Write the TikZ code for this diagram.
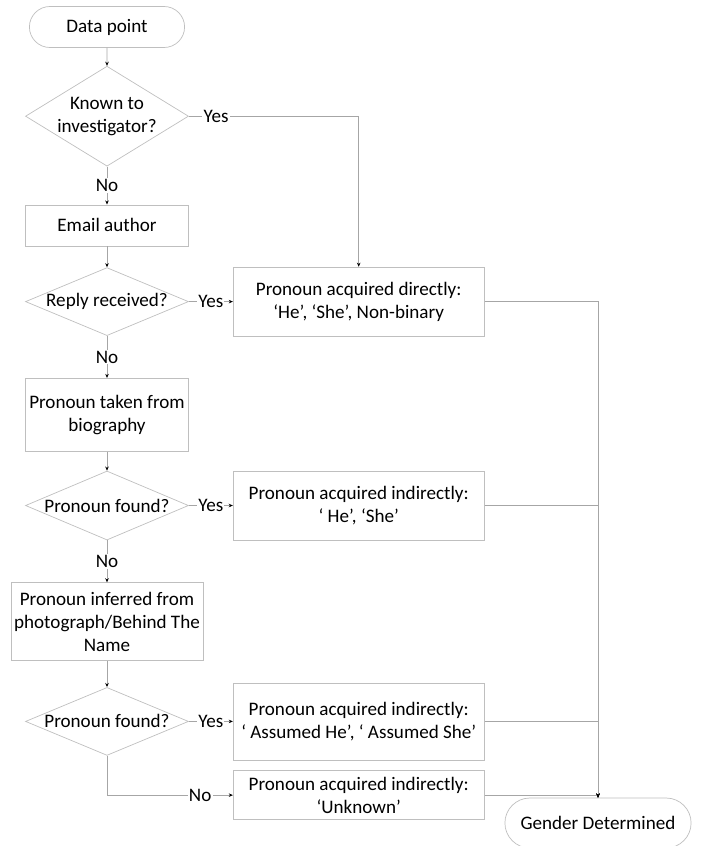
\documentclass[tikz,border=0pt]{standalone}
\usepackage{fontspec}
\setmainfont{Carlito}
\usepackage{tikz}
\usetikzlibrary{arrows.meta}
\usetikzlibrary{shapes,fit,calc,positioning}

\tikzset{
  box/.style={draw=gray!50, line width=0.6pt, minimum width=4.89cm, inner xsep=1pt, align=center, fill=white},
  term/.style={rounded rectangle, draw=gray!50, line width=0.6pt, minimum width=4.89cm, minimum height=1.23cm, fill=white},
  decision/.style={diamond, draw=gray!50, line width=0.6pt, inner sep=0pt, minimum width=4.89cm},
  line/.style={draw=gray!70, line width=0.6pt, -{Stealth[length=3.5pt,width=3pt,black]}},
  lbl/.style={fill=white, inner sep=1pt}
}

\begin{document}
\begin{tikzpicture}[font=\fontsize{16.3}{19.5}\selectfont]
\useasboundingbox (0,0) rectangle (21.03,-25.38);

\node[term](dp) at (3.21,-0.81) {Data point};
\node[decision, minimum height=3cm, below=0.54cm of dp, label={[align=center]center:{Known to\\investigator?}}](d1) {};
\node[box, minimum height=1.23cm, below=1.14cm of d1](email) {Email author};
\node[decision, minimum height=2.04cm, below=0.63cm of email, label=center:{Reply received?}](d2) {};
\node[box, minimum height=2.19cm, below=1.26cm of d2](bio) {Pronoun taken from\\biography};
\node[decision, minimum height=2.07cm, below=0.57cm of bio, label=center:{Pronoun found?}](d3) {};
\node[box, minimum width=5.76cm, minimum height=2.34cm, below=1.26cm of d3](photo) {Pronoun inferred from\\photograph/Behind The\\Name};
\node[decision, minimum height=2.04cm, below=0.78cm of photo, label=center:{Pronoun found?}](d4) {};

\node[box, minimum width=7.53cm, minimum height=2.07cm, right=1.32cm of d2](direct) {Pronoun acquired directly:\\‘He’, ‘She’, Non-binary};
\node[box, minimum width=7.53cm, minimum height=2.07cm, right=1.32cm of d3](ind1) {Pronoun acquired indirectly:\\‘ He’, ‘She’};
\node[box, minimum width=7.53cm, minimum height=2.31cm, right=1.32cm of d4](ind2) {Pronoun acquired indirectly:\\‘ Assumed He’, ‘ Assumed She’};
\node[box, minimum width=7.53cm, minimum height=1.47cm, below=0.3cm of ind2](unk) {Pronoun acquired indirectly:\\‘Unknown’};
\node[term, minimum width=5.82cm, minimum height=1.5cm](gd) at (17.94,-24.69) {Gender Determined};

\draw[line] (dp) -- (d1);
\draw[line] (d1) -- node[lbl] {No} (email);
\draw[line] (d1) -| node[lbl, pos=0.08] {Yes} (direct);
\draw[line] (email) -- (d2);
\draw[line] (d2) -- node[lbl] {Yes} (direct);
\draw[line] (d2) -- node[lbl] {No} (bio);
\draw[line] (bio) -- (d3);
\draw[line] (d3) -- node[lbl] {Yes} (ind1);
\draw[line] (d3) -- node[lbl] {No} (photo);
\draw[line] (photo) -- (d4);
\draw[line] (d4) -- node[lbl] {Yes} (ind2);
\draw[line] (d4) |- node[lbl, pos=0.87] {No} (unk);
\draw[line] (direct) -| (gd);
\draw[line] (ind1) -| (gd);
\draw[line] (ind2) -| (gd);
\draw[line] (unk) -| (gd);
\end{tikzpicture}
\end{document}
